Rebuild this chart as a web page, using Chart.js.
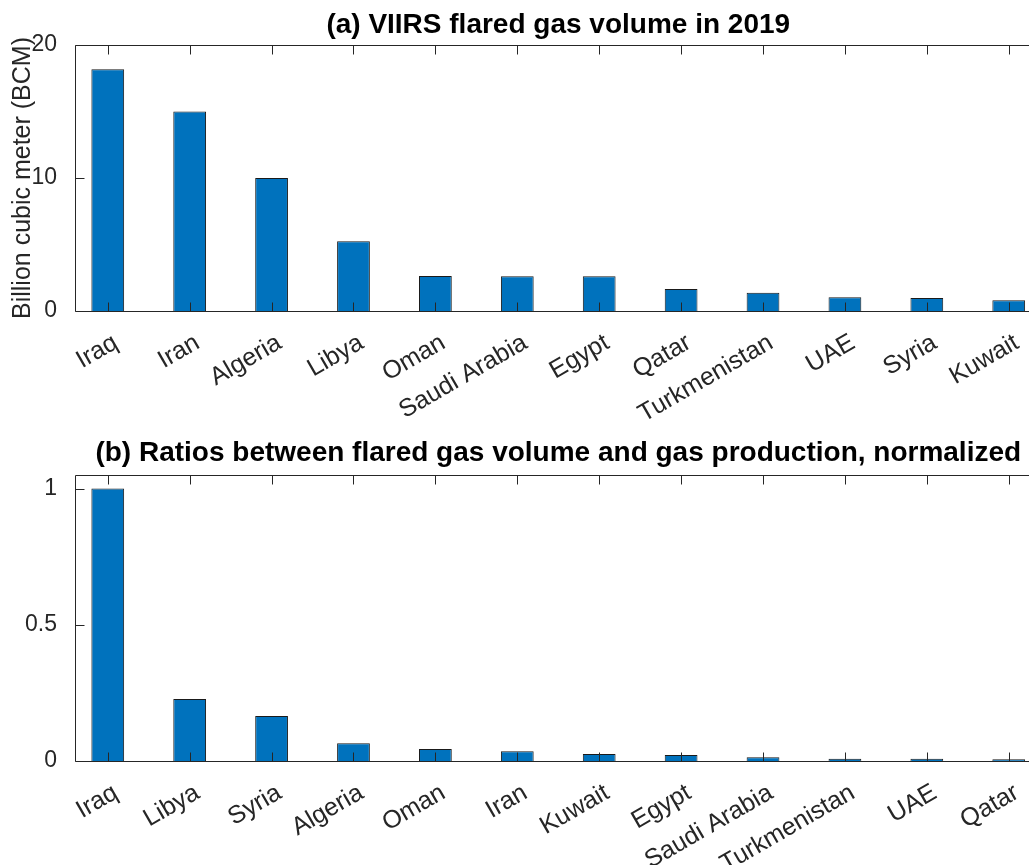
<!DOCTYPE html>
<html>
<head>
<meta charset="utf-8">
<script src="https://cdn.jsdelivr.net/npm/chart.js@4"></script>
<style>
  html, body { margin: 0; padding: 0; background: #fff; overflow: hidden; width: 1029px; height: 865px; }
  canvas { position: absolute; left: 0; }
</style>
</head>
<body>
<canvas id="volChart" width="1045" height="430" style="top:0"></canvas>
<canvas id="ratioChart" width="1045" height="435" style="top:430px"></canvas>
<script>
// (a) flared gas volume, BCM
var volCountries = ['Iraq', 'Iran', 'Algeria', 'Libya', 'Oman', 'Saudi Arabia', 'Egypt', 'Qatar', 'Turkmenistan', 'UAE', 'Syria', 'Kuwait'];
var volValues = [18.17, 15.0, 10.0, 5.25, 2.63, 2.62, 2.62, 1.65, 1.38, 1.03, 0.98, 0.80];
var volTicks = [0, 10, 20];

// (b) flared / produced, normalized
var ratioCountries = ['Iraq', 'Libya', 'Syria', 'Algeria', 'Oman', 'Iran', 'Kuwait', 'Egypt', 'Saudi Arabia', 'Turkmenistan', 'UAE', 'Qatar'];
var ratioValues = [1.0, 0.228, 0.165, 0.065, 0.044, 0.036, 0.026, 0.022, 0.014, 0.008, 0.008, 0.006];
var ratioTicks = [0, 0.5, 1];

var FONT = '"Liberation Sans", Arial, Helvetica, sans-serif';
var AXIS_COLOR = '#262626';

// matlab style box: frame, inward ticks, bold title above
var matlabAxes = {
  id: 'matlabAxes',
  afterDatasetsDraw: function(chart, args, opts) {
    var a = chart.chartArea, ctx = chart.ctx;
    var xs = chart.scales.x, ys = chart.scales.y;
    var tl = 9;
    ctx.save();
    ctx.strokeStyle = AXIS_COLOR;
    ctx.lineWidth = 1;
    ctx.beginPath();
    var L = Math.round(a.left) + 0.5, R = Math.round(a.right) + 0.5;
    var T = Math.round(a.top) + 0.5, B = Math.round(a.bottom) + 0.5;
    ctx.rect(L, T, R - L, B - T);
    xs.ticks.forEach(function(t) {
      var px = Math.round(xs.getPixelForValue(t.value)) + 0.5;
      ctx.moveTo(px, B); ctx.lineTo(px, B - tl);
      ctx.moveTo(px, T); ctx.lineTo(px, T + tl);
    });
    ys.ticks.forEach(function(t) {
      var py = Math.round(ys.getPixelForValue(t.value)) + 0.5;
      ctx.moveTo(L, py); ctx.lineTo(L + tl, py);
      ctx.moveTo(R, py); ctx.lineTo(R - tl, py);
    });
    ctx.stroke();

    ctx.fillStyle = '#000';
    ctx.font = 'bold 28px ' + FONT;
    ctx.textAlign = 'center';
    ctx.textBaseline = 'alphabetic';
    ctx.fillText(opts.text, (a.left + a.right) / 2, a.top - opts.gap);
    ctx.restore();
  }
};

function makeChart(id, cats, vals, yMax, yTicks, title, gap, axisH, yTitle) {
  var points = cats.map(function(c, i) { return { x: i + 1, y: vals[i] }; });
  return new Chart(document.getElementById(id), {
    type: 'bar',
    data: {
      datasets: [{
        data: points,
        backgroundColor: '#0072BD',
        borderColor: '#1a1a1a',
        borderWidth: 1,
        barPercentage: 0.4,
        categoryPercentage: 1.0
      }]
    },
    options: {
      responsive: false,
      animation: false,
      layout: { padding: { top: 45, right: 3.5, left: 0, bottom: 0 } },
      plugins: {
        legend: { display: false },
        tooltip: { enabled: false },
        matlabAxes: { text: title, gap: gap }
      },
      scales: {
        x: {
          type: 'linear',
          offset: false,
          min: 0.6,
          max: 12.4,
          afterBuildTicks: function(s) {
            s.ticks = cats.map(function(c, i) { return { value: i + 1 }; });
          },
          afterFit: function(s) { s.height = axisH; },
          grid: { display: false },
          border: { display: false },
          ticks: {
            autoSkip: false,
            minRotation: 30,
            maxRotation: 30,
            padding: 9,
            labelOffset: 8,
            color: AXIS_COLOR,
            font: { family: FONT, size: 25 },
            callback: function(v, i) { return cats[i]; }
          }
        },
        y: {
          min: 0,
          max: yMax,
          afterBuildTicks: function(s) {
            s.ticks = yTicks.map(function(v) { return { value: v }; });
          },
          afterFit: function(s) { s.width = 75; },
          grid: { display: false },
          border: { display: false },
          title: {
            display: !!yTitle,
            text: yTitle || '',
            color: AXIS_COLOR,
            font: { family: FONT, size: 25 },
            padding: { top: 8, bottom: 0 }
          },
          ticks: {
            padding: 10,
            color: AXIS_COLOR,
            font: { family: FONT, size: 23 },
            callback: function(v) { return String(v); }
          }
        }
      }
    },
    plugins: [matlabAxes]
  });
}

makeChart('volChart', volCountries, volValues, 20, volTicks,
  '(a) VIIRS flared gas volume in 2019', 12, 119, 'Billion cubic meter (BCM)');
makeChart('ratioChart', ratioCountries, ratioValues, 1.05, ratioTicks,
  '(b) Ratios between flared gas volume and gas production, normalized', 14, 104, null);
</script>
</body>
</html>
